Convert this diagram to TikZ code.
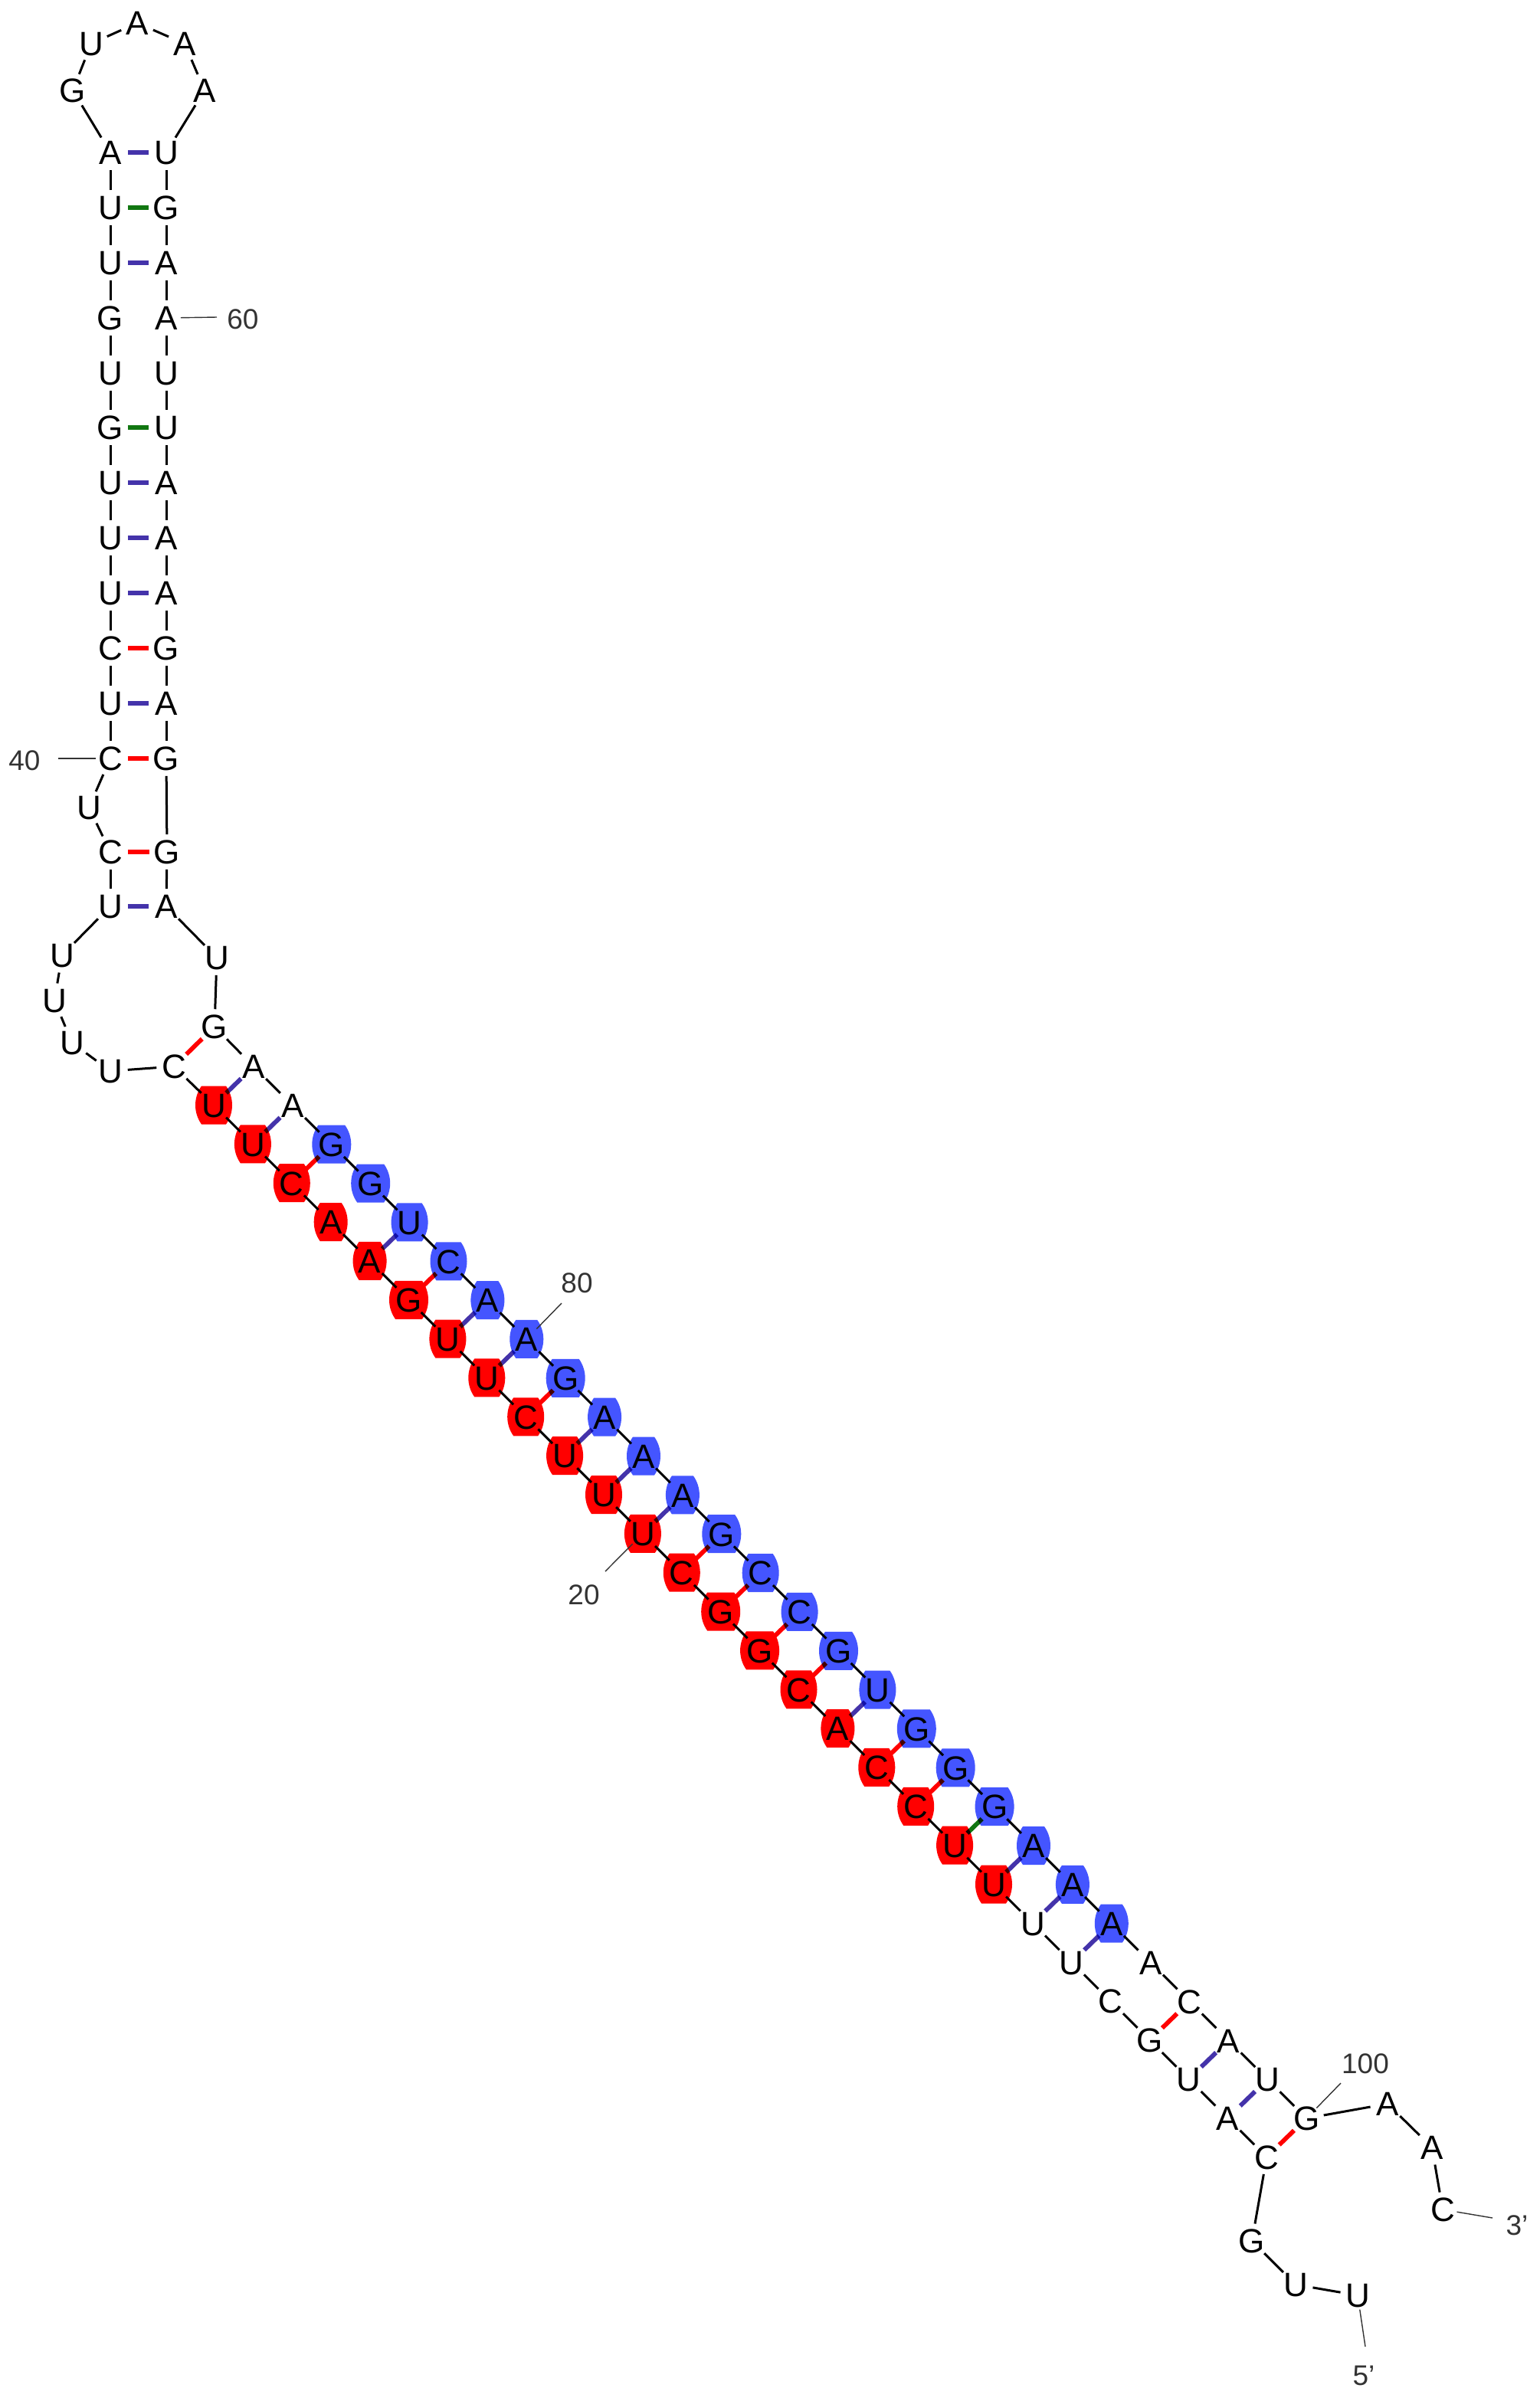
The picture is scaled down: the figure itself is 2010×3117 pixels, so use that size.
\documentclass[tikz,border=0pt]{standalone}
\usepackage{fontspec}
\setmainfont{Liberation Sans}
\usetikzlibrary{backgrounds}
\definecolor{pairblue}{HTML}{4433AA}
\definecolor{pairgreen}{HTML}{117711}
\definecolor{pairred}{HTML}{FF0000}
\definecolor{blobred}{HTML}{FF0000}
\definecolor{blobblue}{HTML}{4455FF}
\definecolor{numgray}{HTML}{333333}
\def\blobwA{22}
\def\blobwC{24}
\def\blobwG{25.5}
\def\blobwU{24}
\tikzset{
  base/.style={circle,inner sep=0pt,minimum size=11pt,text height=7.9pt,text depth=0pt,
    font=\fontsize{11}{12}\selectfont},
  backbone/.style={line width=0.75pt},
  pairline/.style={line width=1.45pt,blend mode=multiply},
  numlabel/.style={text=numgray,inner sep=0pt,font=\fontsize{9.25}{11}\selectfont},
  leader/.style={line width=0.35pt,draw=numgray,shorten <=-1pt},
  pics/blob/.style 2 args={code={
    \fill[#2] (-#1+8,-25) -- (#1-8,-25) .. controls (#1-2.8,-17.7) and (#1,-9) .. (#1,0)
      .. controls (#1,9) and (#1-2.8,17.7) .. (#1-8,25) -- (-#1+8,25)
      .. controls (-#1+2.8,17.7) and (-#1,9) .. (-#1,0)
      .. controls (-#1,-9) and (-#1+2.8,-17.7) .. (-#1+8,-25) -- cycle;
  }}
}
\begin{document}
\begin{tikzpicture}[x=0.25pt,y=-0.25pt]
  \useasboundingbox (0,0) rectangle (2010,3117);
  \foreach \k/\x/\y/\b in {1/1772/2996/U,2/1691/2982/U,3/1634/2925/G,
    32/227/1392/C,33/144/1398/U,34/94/1361/U,35/71/1306/U,36/81/1247/U,37/144/1183/U,
    38/144/1112/C,39/116/1054/U,40/144/990/C,41/144/918/U,42/144/846/C,43/144/774/U,
    44/144/702/U,45/144/630/U,46/144/558/G,47/144/487/U,48/144/415/G,49/144/343/U,
    50/144/271/U,51/144/199/A,52/95/118/G,53/119/57/U,54/179/30/A,55/241/57/A,
    56/267/118/A,57/217/199/U,58/217/271/G,59/217/343/A,60/217/415/A,61/217/487/U,
    62/217/558/U,63/217/630/A,64/217/702/A,65/217/774/A,66/217/846/G,67/217/918/A,
    68/217/990/G,69/218/1112/G,70/217/1183/A,71/283/1250/U,72/280/1340/G,
    101/1811/2746/A,102/1869/2803/A,103/1883/2884/C}
    \node[base] (n\k) at (\x,\y) {\makebox[0pt]{\b}};
  \foreach \i/\b in {0/U,1/U,2/C,3/A,4/A,5/G,6/U,7/U,8/C,9/U,10/U,11/U,12/C,13/G,14/G,
    15/C,16/A,17/C,18/C,19/U,20/U,21/U,22/U,23/C,24/G,25/U,26/A,27/C} {
    \pgfmathtruncatemacro\k{31-\i}
    \pgfmathsetmacro\x{279+50.9*\i}
    \pgfmathsetmacro\y{1442.5+50.85*\i}
    \node[base] (n\k) at (\x,\y) {\makebox[0pt]{\b}};
    \ifnum\i<21
      \edef\w{\csname blobw\b\endcsname}
      \begin{pgfonlayer}{background}
        \pic at (n\k) {blob={\w}{blobred}};
      \end{pgfonlayer}
    \fi
  }
  \foreach \i/\b in {0/A,1/A,2/G,3/G,4/U,5/C,6/A,7/A,8/G,9/A,10/A,11/A,12/G,13/C,14/C,
    15/G,16/U,17/G,18/G,19/G,20/A,21/A,22/A,23/A,24/C,25/A,26/U,27/G} {
    \pgfmathtruncatemacro\k{73+\i}
    \pgfmathsetmacro\x{331+50.9*\i}
    \pgfmathsetmacro\y{1392+50.85*\i}
    \node[base] (n\k) at (\x,\y) {\makebox[0pt]{\b}};
    \ifnum\i>1 \ifnum\i<23
      \edef\w{\csname blobw\b\endcsname}
      \begin{pgfonlayer}{background}
        \pic at (n\k) {blob={\w}{blobblue}};
      \end{pgfonlayer}
    \fi\fi
  }
  \foreach \k [evaluate=\k as \j using int(\k+1)] in {1,...,102}
    \draw[backbone] (n\k) -- (n\j);
  \foreach \p/\q in {51/57,49/59,45/63,44/64,43/65,41/67,37/70,31/73,30/74,27/77,25/79,
    24/80,22/82,21/83,20/84,15/89,11/93,10/94,9/95,6/98,5/99}
    \draw[pairline,pairblue] (n\p) -- (n\q);
  \foreach \p/\q in {42/66,40/68,38/69,32/72,29/75,26/78,23/81,19/85,18/86,17/87,16/88,
    14/90,13/91,7/97,4/100}
    \draw[pairline,pairred] (n\p) -- (n\q);
  \foreach \p/\q in {50/58,46/62,12/92}
    \draw[pairline,pairgreen] (n\p) -- (n\q);
  \node[numlabel] (l60) at (317,417) {60};
  \node[numlabel] (l40) at (32,993) {40};
  \node[numlabel] (l80) at (753,1675) {80};
  \node[numlabel] (l20) at (762,2082) {20};
  \node[numlabel] (l100) at (1782,2694) {100};
  \node[numlabel] (l3) at (1980,2905) {3'};
  \node[numlabel] (l5) at (1780,3101) {5'};
  \coordinate (c60) at (283,414);
  \coordinate (c40) at (76,990);
  \coordinate (c80) at (733,1701);
  \coordinate (c20) at (790,2051);
  \coordinate (c100) at (1750,2719);
  \coordinate (c3) at (1948,2895);
  \coordinate (c5) at (1782,3063);
  \draw[leader] (n60) -- (c60);
  \draw[leader] (n40) -- (c40);
  \draw[leader] (n80) -- (c80);
  \draw[leader] (n20) -- (c20);
  \draw[leader] (n100) -- (c100);
  \draw[leader] (n103) -- (c3);
  \draw[leader] (n1) -- (c5);
\end{tikzpicture}
\end{document}
